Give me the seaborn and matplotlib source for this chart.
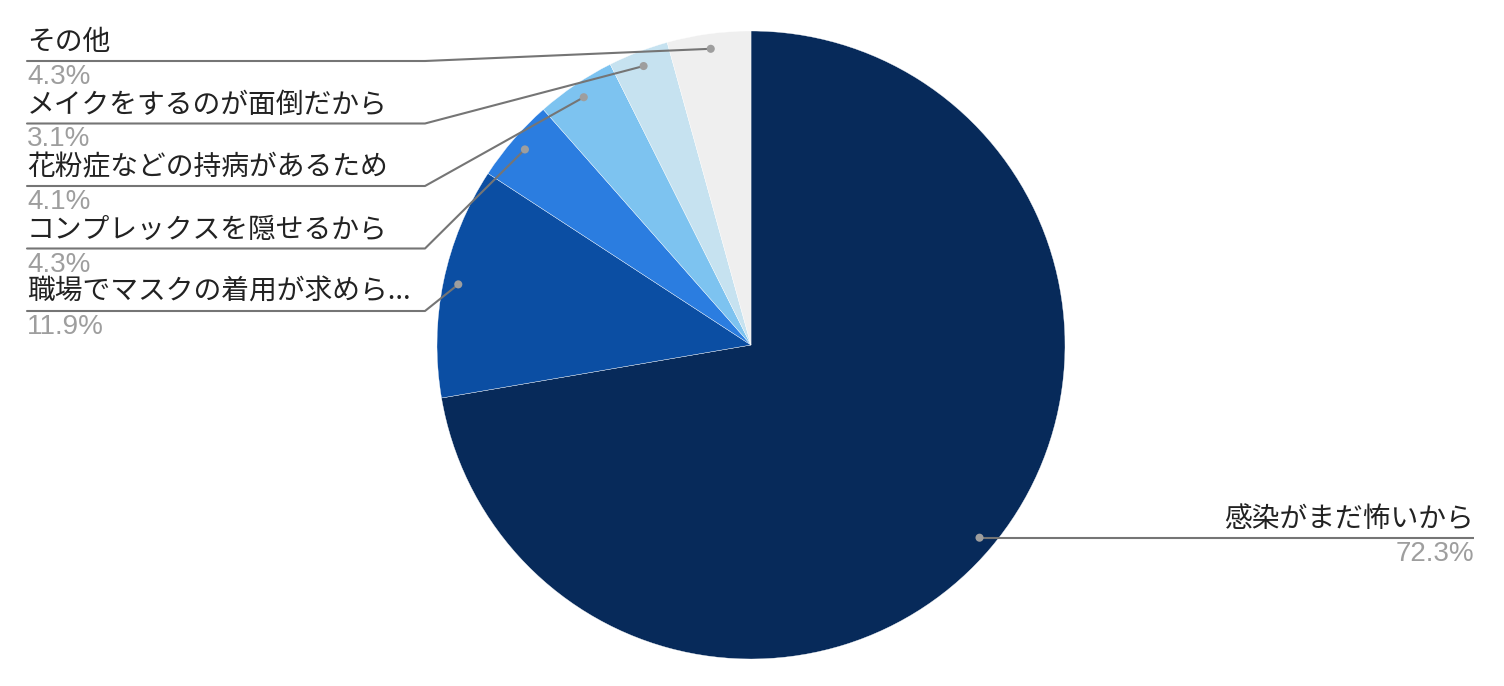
import numpy as np
import matplotlib
matplotlib.use("Agg")
import matplotlib.pyplot as plt
import seaborn as sns

categories = ["感染がまだ怖いから", "職場でマスクの着用が求めら...", "コンプレックスを隠せるから",
              "花粉症などの持病があるため", "メイクをするのが面倒だから", "その他"]
values = [72.3, 11.9, 4.3, 4.1, 3.1, 4.3]
pct_labels = ["72.3%", "11.9%", "4.3%", "4.1%", "3.1%", "4.3%"]
colors = ["#072a5a", "#0b4ea3", "#2b7de0", "#7dc3f0", "#c6e2f0", "#efefef"]

sns.set_theme(style="white")
plt.rcParams['font.family'] = ['Noto Sans CJK JP', 'DejaVu Sans']

W, H = 1504, 686
fig = plt.figure(figsize=(W / 100, H / 100), dpi=100)
ax = fig.add_axes([0, 0, 1, 1])

def py(y):
    return H - y

cx, cy, R = 751, 345, 314
wedges, _ = ax.pie(values, colors=sns.color_palette(colors), startangle=90, counterclock=False,
                   center=(cx, py(cy)), radius=R, frame=True,
                   wedgeprops=dict(edgecolor='white', linewidth=0.25))
ax.set_xlim(0, W)
ax.set_ylim(0, H)
ax.set_aspect('equal')
ax.axis('off')

line_col = "#757575"
dot_col = "#9e9e9e"
label_col = "#222222"
pct_col = "#9e9e9e"
fs = 20
pfs = 20
pfam = ['Liberation Sans', 'DejaVu Sans']

dots = []
for w in wedges:
    ang = np.deg2rad((w.theta1 + w.theta2) / 2)
    r = 0.952 * R
    dots.append((cx + r * np.cos(ang), py(cy) + r * np.sin(ang)))

# main slice: label on right
dx, dy = dots[0]
ax.plot([dx, 1474], [dy, dy], color=line_col, lw=1.5, solid_capstyle='butt', zorder=3)
ax.scatter([dx], [dy], s=34, color=dot_col, zorder=4, edgecolors='none')
ax.text(1474, dy + 4, categories[0], ha='right', va='bottom', fontsize=fs, color=label_col)
ax.text(1474, dy - 3, pct_labels[0], ha='right', va='top', fontsize=pfs, color=pct_col, family=pfam)

# left labels, top to bottom
order = [5, 4, 3, 2, 1]
for row, i in enumerate(order):
    uy = py(61 + 62.5 * row)
    dx, dy = dots[i]
    ax.plot([27, 425, dx], [uy, uy, dy], color=line_col, lw=1.5, zorder=3)
    ax.scatter([dx], [dy], s=34, color=dot_col, zorder=4, edgecolors='none')
    ax.text(27, uy + 4, categories[i], ha='left', va='bottom', fontsize=fs, color=label_col)
    ax.text(27, uy - 3, pct_labels[i], ha='left', va='top', fontsize=pfs, color=pct_col, family=pfam)

fig.savefig("out.png", dpi=100, facecolor='white')
